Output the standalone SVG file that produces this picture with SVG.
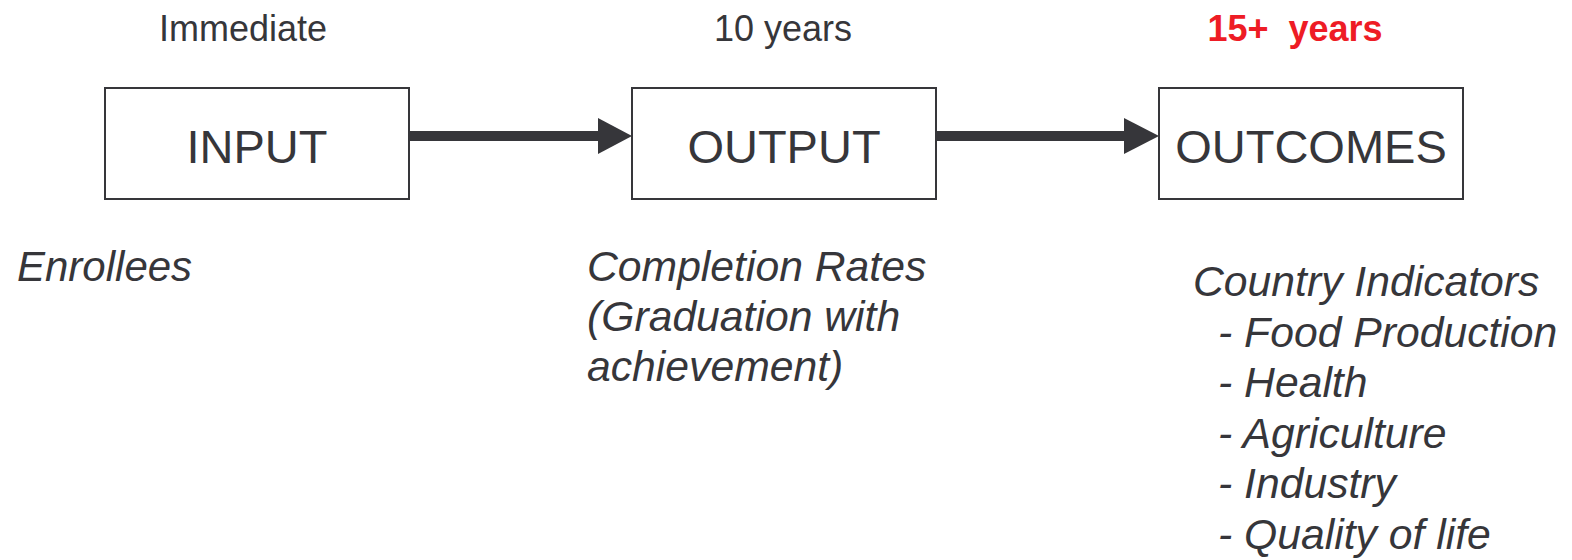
<svg xmlns="http://www.w3.org/2000/svg" width="1572" height="560" viewBox="0 0 1572 560">
<style>
.box{fill:#fff;stroke:#36363a;stroke-width:2}
.lbl{font-family:"Liberation Sans",Arial,sans-serif;font-size:47px;fill:#36363a;text-anchor:middle}
.top{font-family:"Liberation Sans",Arial,sans-serif;font-size:36px;fill:#36363a;text-anchor:middle}
.red{font-family:"Liberation Sans",Arial,sans-serif;font-size:36px;font-weight:bold;fill:#ee1c25;text-anchor:middle;white-space:pre}
.it{font-family:"Liberation Sans",Arial,sans-serif;font-style:italic;fill:#36363a;font-size:42.7px}
.conn{stroke:#36363a;stroke-width:10;fill:none}
.head{fill:#36363a}
</style>
<rect width="1572" height="560" fill="#fff"/>
<text class="top" x="243" y="41">Immediate</text>
<text class="top" x="783" y="41">10 years</text>
<text class="red" x="1295" y="41" xml:space="preserve">15+  years</text>
<g id="connectors">
<line class="conn" x1="409" y1="136" x2="600" y2="136"/>
<polygon class="head" points="598,118 632,136 598,154"/>
<line class="conn" x1="936" y1="136" x2="1126" y2="136"/>
<polygon class="head" points="1124,118 1159,136 1124,154"/>
</g>
<g id="input">
<rect class="box" x="105" y="88" width="304" height="111"/>
<text class="lbl" x="257" y="163">INPUT</text>
</g>
<g id="output">
<rect class="box" x="632" y="88" width="304" height="111"/>
<text class="lbl" x="784" y="163">OUTPUT</text>
</g>
<g id="outcomes">
<rect class="box" x="1159" y="88" width="304" height="111"/>
<text class="lbl" x="1311" y="163">OUTCOMES</text>
</g>
<text class="it" x="17" y="281" style="font-size:42px">Enrollees</text>
<text class="it">
<tspan x="587" y="281">Completion Rates</tspan>
<tspan x="587" y="331">(Graduation with</tspan>
<tspan x="587" y="381">achievement)</tspan>
</text>
<text class="it">
<tspan x="1193" y="296">Country Indicators</tspan>
<tspan x="1218" y="347">- Food Production</tspan>
<tspan x="1218" y="397">- Health</tspan>
<tspan x="1218" y="448">- Agriculture</tspan>
<tspan x="1218" y="498">- Industry</tspan>
<tspan x="1218" y="549">- Quality of life</tspan>
</text>
</svg>
